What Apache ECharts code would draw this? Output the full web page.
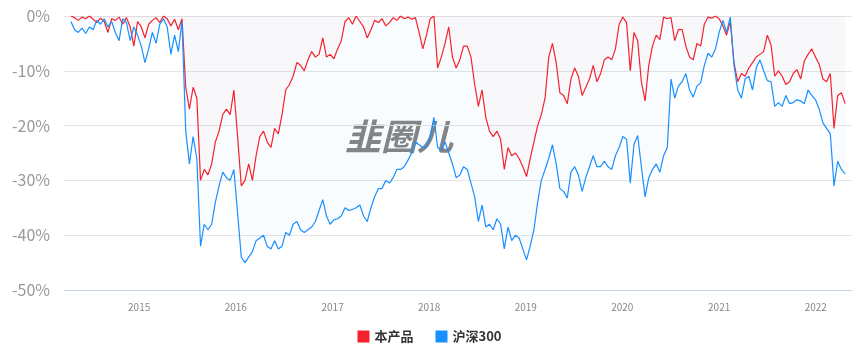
<!doctype html>
<html lang="zh">
<head>
    <meta charset="UTF-8">
    <title>回撤对比</title>
    <script src="https://cdn.jsdelivr.net/npm/echarts@6/dist/echarts.min.js"></script>
    <style>
        html, body { margin: 0; padding: 0; background: #fff; }
        #main { width: 859px; height: 354px; }
    </style>
</head>
<body>
<div id="main"></div>
<script type="text/javascript">
    // 采样：从 2014-04-18 起每 14 天一个点
    var startDate = '2014-04-18';
    var stepDays = 14;

    // 本产品 回撤(%)
    var productDD = [
        0, -0.3, -0.8, -0.2, -0.5, 0, -0.6, -1.2, -0.4, -1.0,
        -3.0, -0.5, -0.8, -0.2, -1.5, -0.3, -2.0, -5.5, -1.0, -2.0,
        -4.0, -1.5, -0.8, -0.3, -1.2, 0, -0.5, -1.8, -0.6, -2.5,
        -0.5, -13, -17, -13, -15, -30, -28, -29, -27, -23,
        -21, -18, -17, -18, -13.5, -22, -31, -30, -27, -30,
        -25.5, -22, -21, -23, -24, -20.5, -21.5, -18, -13.5, -12.5,
        -11, -8.5, -9.0, -10.0, -8.0, -6.5, -7.5, -7.0, -4.0, -7.5,
        -7.0, -7.8, -6.0, -4.5, -1.0, -0.3, -1.5, 0, -1.0, -2.0,
        -4.0, -2.5, -0.8, -1.2, -0.5, -1.8, -1.2, -0.3, -0.8, 0,
        -0.5, -0.2, -0.6, -0.3, -3.0, -6.0, -3.5, -0.5, 0, -9.5,
        -7.5, -5.0, -2.0, -7.5, -9.5, -8.0, -5.5, -5.5, -7.5, -12.5,
        -16.5, -13.5, -18.5, -21.0, -22.0, -21.0, -22.5, -28.0, -24.0, -25.5,
        -25.0, -26.0, -27.5, -29.3, -26.0, -23.0, -20.0, -18.0, -15.0, -7.5,
        -5.0, -8.5, -14.0, -14.5, -16.0, -11.5, -9.5, -11.0, -14.5, -13.0,
        -11.5, -9.0, -12.0, -10.5, -8.0, -7.5, -8.0, -6.0, -1.5, -0.2,
        -1.2, -10.0, -3.0, -4.5, -12.0, -15.5, -9.0, -5.5, -3.5, -4.3,
        -0.2, -0.5, -0.3, -4.5, -2.5, -2.5, -5.5, -7.5, -8.0, -5.0,
        -5.5, -1.5, -0.2, -0.4, 0, -0.5, -1.8, -3.5, -1.0, -8.5,
        -12.0, -10.5, -11.0, -9.5, -8.5, -7.5, -7.0, -6.5, -3.5, -5.3,
        -11.0, -10.0, -11.0, -12.5, -12.0, -10.5, -9.8, -11.5, -8.2, -7.0,
        -6.0, -7.5, -8.8, -11.5, -12.0, -10.5, -20.5, -14.5, -14.0, -16.0
    ];

    // 沪深300 回撤(%)
    var hs300DD = [
        -1.0, -2.5, -3.0, -2.2, -3.2, -2.0, -2.5, -0.8, -1.5, -0.5,
        -2.0, -1.0, -3.0, -4.5, -0.5, -1.2, -4.5, -2.0, -3.5, -5.5,
        -8.5, -6.0, -3.0, -5.0, -1.5, -0.5, -2.0, -7.0, -3.5, -6.5,
        -1.0, -21, -27, -22, -26, -42, -38, -39, -38, -34,
        -31, -28.5, -29.5, -30, -28, -36, -44, -45, -44, -43,
        -41.0, -40.5, -40.0, -42.0, -42.5, -41.0, -42.5, -42.0, -39.5, -40.0,
        -38.0, -37.5, -39.0, -39.5, -39.0, -38.5, -37.5, -35.5, -33.5, -36.5,
        -38.0, -37.2, -37.0, -36.5, -35.0, -35.5, -35.3, -35.0, -34.5, -36.5,
        -37.5, -35.0, -33.0, -31.5, -31.5, -30.0, -30.5, -29.5, -28.0, -28.0,
        -27.5, -26.3, -25.0, -23.0, -23.5, -24.0, -24.0, -22.0, -18.5, -24.0,
        -24.5, -23.0, -25.0, -27.0, -29.5, -29.0, -27.5, -28.0, -30.5, -33.0,
        -37.5, -34.5, -38.5, -38.0, -39.0, -37.0, -38.0, -42.5, -38.5, -41.0,
        -40.0, -40.5, -42.5, -44.5, -42.0, -39.0, -34.0, -30.0, -28.0, -26.0,
        -23.5, -27.0, -31.5, -32.0, -33.2, -28.5, -27.5, -29.0, -32.0, -29.5,
        -27.5, -25.5, -27.5, -27.5, -26.5, -27.5, -28.0, -25.5, -24.0, -22.0,
        -22.5, -30.5, -23.5, -21.8, -27.5, -33.0, -29.5, -28.0, -27.0, -28.5,
        -25.5, -24.0, -11.5, -15.0, -12.8, -12.0, -10.5, -13.5, -14.8, -12.8,
        -12.2, -9.0, -6.8, -7.5, -6.0, -3.0, -0.8, -3.0, -0.2, -9.0,
        -13.5, -15.0, -11.5, -11.0, -13.5, -9.5, -8.0, -10.0, -11.8, -12.0,
        -16.5, -15.8, -16.5, -14.5, -16.0, -15.8, -15.3, -15.5, -16.0, -13.5,
        -14.5, -15.3, -17.0, -19.5, -20.5, -21.5, -31.0, -26.5, -28.0, -28.8
    ];

    var yTicks = [-50, -40, -30, -20, -10, 0];

    // 日期（x 轴）
    var dates = [];
    var t0 = new Date(startDate + 'T00:00:00').getTime();
    for (var i = 0; i < productDD.length; i++) {
        dates.push(t0 + i * stepDays * 24 * 3600 * 1000);
    }

    function pairs(vals) {
        var out = [];
        for (var i = 0; i < vals.length; i++) {
            out.push([dates[i], vals[i]]);
        }
        return out;
    }

    var myChart = echarts.init(document.getElementById('main'));

    myChart.setOption({
        animation: false,
        textStyle: { fontFamily: "'Noto Sans CJK SC', 'Noto Sans', sans-serif" },
        grid: { left: 64, right: 7, top: 16, bottom: 64 },
        legend: {
            data: ['本产品', '沪深300'],
            bottom: 6,
            left: 'center',
            icon: 'rect',
            itemWidth: 12,
            itemHeight: 12,
            itemGap: 22,
            textStyle: { color: '#333', fontSize: 13, fontWeight: 'bold' }
        },
        xAxis: {
            type: 'time',
            min: '2014-03-23',
            max: '2022-05-18',
            minInterval: 365 * 24 * 3600 * 1000,
            maxInterval: 366 * 24 * 3600 * 1000,
            axisLine: { onZero: false, lineStyle: { color: '#c6d6ec' } },
            axisTick: { show: false },
            splitLine: { show: false },
            axisLabel: {
                color: '#888',
                fontSize: 10,
                margin: 12,
                formatter: function (value) {
                    var d = new Date(value);
                    return (d.getMonth() === 0 && d.getDate() === 1) ? String(d.getFullYear()) : '';
                }
            }
        },
        yAxis: {
            type: 'value',
            min: yTicks[0],
            max: yTicks[yTicks.length - 1],
            interval: 10,
            axisLine: { show: false },
            axisTick: { show: false },
            axisLabel: { formatter: '{value}%', color: '#999', fontSize: 16, margin: 14 },
            splitLine: { lineStyle: { color: '#e4e4e4' } }
        },
        graphic: [
            {
                type: 'text',
                left: 345,
                top: 118,
                z: 0,
                style: {
                    text: '韭圈儿',
                    fill: 'rgba(110,110,110,0.85)',
                    font: 'italic bold 36px "Noto Sans CJK SC"'
                }
            }
        ],
        series: [
            {
                name: '本产品',
                type: 'line',
                data: pairs(productDD),
                symbol: 'none',
                color: '#f5222d',
                lineStyle: { width: 1.2 },
                areaStyle: { color: 'rgba(245,34,45,0.035)' }
            },
            {
                name: '沪深300',
                type: 'line',
                data: pairs(hs300DD),
                symbol: 'none',
                color: '#1890ff',
                lineStyle: { width: 1.2 },
                areaStyle: { color: 'rgba(24,144,255,0.045)' }
            }
        ]
    });

    window.onresize = function () {
        myChart.resize();
    };
</script>
</body>
</html>
